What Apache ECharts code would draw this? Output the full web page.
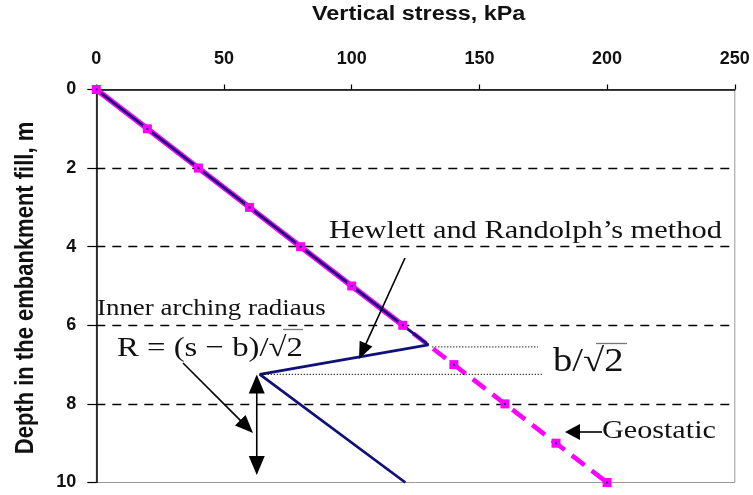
<!DOCTYPE html>
<html><head><meta charset="utf-8">
<script src="https://cdn.jsdelivr.net/npm/echarts@6/dist/echarts.min.js"></script>
<style>html,body{margin:0;padding:0;background:#fff}#c{width:753px;height:495px}</style>
</head><body><div id="c"></div>
<script>
// ---- data ----
const geoStress = [0, 20, 40, 60, 80, 100, 120, 140, 160, 180, 200];
const geoDepth  = [0, 1, 2, 3, 4, 5, 6, 7, 8, 9, 10];
const hrStress  = [0, 130, 64, 121];
const hrDepth   = [0, 6.5, 7.25, 10];
const xTickLabels = [0, 50, 100, 150, 200, 250];
const yTickLabels = [0, 2, 4, 6, 8, 10];
const gridDepths = [2, 4, 6, 8];
const xTitle = 'Vertical stress, kPa';
const yTitle = 'Depth in the embankment fill, m';
const noteMethod = 'Hewlett and Randolph\u2019s method';
const noteInner = 'Inner arching radiaus';
const noteR = 'R = (s \u2212 b)/\u221A2';
const noteB = 'b/\u221A2';
const noteGeo = 'Geostatic';

const geoData = geoStress.map((s, i) => [s, geoDepth[i]]);
const hrData = hrStress.map((s, i) => [s, hrDepth[i]]);
const geoUnder = geoData.filter(p => p[1] <= hrDepth[1]);

const MAG = '#FF00FF', NAVY = '#10107A', TXT = '#111';
const chart = echarts.init(document.getElementById('c'));
const labelFont = {fontFamily: '"Liberation Sans", Arial, sans-serif', fontWeight: 'bold', fontSize: 18, color: TXT};

chart.setOption({
  animation: false,
  backgroundColor: '#fff',
  grid: {left: 96.3, right: 18.2, top: 89.5, bottom: 12.5, show: true, borderColor: '#999', borderWidth: 1},
  xAxis: {
    type: 'value', position: 'top', min: xTickLabels[0], max: xTickLabels[xTickLabels.length - 1], interval: 50,
    axisLine: {show: true, onZero: false, lineStyle: {color: '#000', width: 1.5}},
    axisTick: {show: true, inside: false, length: 5, lineStyle: {color: '#000', width: 1.2}},
    axisLabel: Object.assign({margin: 21}, labelFont),
    splitLine: {show: false}
  },
  yAxis: {
    type: 'value', inverse: true, min: yTickLabels[0], max: yTickLabels[yTickLabels.length - 1], interval: 2,
    axisLine: {show: true, onZero: false, lineStyle: {color: '#000', width: 1.5}},
    axisTick: {show: true, inside: false, length: 9, lineStyle: {color: '#000', width: 1.2}},
    axisLabel: Object.assign({margin: 20}, labelFont),
    splitLine: {show: false}
  },
  series: [
    {
      type: 'line', name: 'Geostatic', data: geoData, symbol: 'none', z: 2, clip: false,
      lineStyle: {color: MAG, width: 4.5, type: [16, 9]},
      markLine: {
        silent: true, symbol: 'none', z: 1, label: {show: false},
        lineStyle: {color: '#000', width: 1.4, type: [9, 7]},
        data: gridDepths.map(d => ({yAxis: d}))
      }
    },
    {
      type: 'line', name: 'GeostaticUnder', data: geoUnder, symbol: 'none', z: 2,
      lineStyle: {color: MAG, width: 5.5, type: 'solid'}
    },
    {
      type: 'line', name: 'Hewlett', data: hrData, symbol: 'none', z: 3, clip: false,
      lineStyle: {color: NAVY, width: 2.8}
    },
    {
      type: 'scatter', name: 'GeoMarkers', data: geoData, symbol: 'rect', symbolSize: 9, z: 4, clip: false,
      itemStyle: {color: MAG, opacity: 1}
    },
    {
      type: 'scatter', name: 'GeoDots', data: geoData, symbol: 'rect', symbolSize: 2, z: 5, clip: false,
      itemStyle: {color: NAVY, opacity: 1}
    }
  ]
});

function arrowHead(x2, y2, ux, uy, len, w) {
  const bx = x2 - ux * len, by = y2 - uy * len, px = -uy * w / 2, py = ux * w / 2;
  return {type: 'polygon', z: 20, shape: {points: [[x2, y2], [bx + px, by + py], [bx - px, by - py]]}, style: {fill: '#000'}};
}
function arrow(x1, y1, x2, y2, len, w, both) {
  const dx = x2 - x1, dy = y2 - y1, L = Math.hypot(dx, dy), ux = dx / L, uy = dy / L;
  const out = [{type: 'line', z: 20, shape: {x1: both ? x1 + ux * len * 0.8 : x1, y1: both ? y1 + uy * len * 0.8 : y1, x2: x2 - ux * len * 0.8, y2: y2 - uy * len * 0.8}, style: {stroke: '#000', lineWidth: 1.6}}];
  out.push(arrowHead(x2, y2, ux, uy, len, w));
  if (both) out.push(arrowHead(x1, y1, -ux, -uy, len, w));
  return out;
}
function txt(t, x, baseline, size, opts) {
  opts = opts || {};
  const fam = opts.family || '"Liberation Serif", "Times New Roman", serif';
  const weight = opts.bold ? 'bold ' : '';
  const fac = opts.bold ? 0.3465 : 0.3375;
  return {type: 'text', z: 30, x: x, y: baseline - fac * size, scaleX: opts.sx || 1.17,
    style: {text: t, font: weight + size + 'px ' + fam, fill: TXT, align: 'left', verticalAlign: 'middle'}};
}

const peak = chart.convertToPixel({seriesIndex: 2}, hrData[1]);
const kink = chart.convertToPixel({seriesIndex: 2}, hrData[2]);
const sans = '"Liberation Sans", Arial, sans-serif';

const g = [];
// axis titles
g.push(txt(xTitle, 312, 21.7, 20, {bold: true, family: sans}));
g.push({type: 'text', z: 30, x: 26, y: 288, rotation: Math.PI / 2, scaleY: 1.17,
  style: {text: yTitle, font: 'bold 22px ' + sans, fill: TXT, align: 'center', verticalAlign: 'middle'}});
// notes
g.push(txt(noteMethod, 329, 240, 26));
g.push(txt(noteInner, 97, 317, 23));
g.push(txt(noteR, 117, 358, 28));
g.push(txt(noteB, 553, 373, 33));
g.push(txt(noteGeo, 602, 440, 26, {sx: 1.16}));
// radical overlines
g.push({type: 'line', z: 30, shape: {x1: 283, y1: 329.5, x2: 303, y2: 329.5}, style: {stroke: '#777', lineWidth: 1.3}});
g.push({type: 'line', z: 30, shape: {x1: 596, y1: 343.5, x2: 627, y2: 343.5}, style: {stroke: '#777', lineWidth: 1.3}});
// dotted guides
g.push({type: 'line', z: 20, shape: {x1: peak[0] + 4, y1: peak[1] + 2, x2: 538, y2: peak[1] + 2}, style: {stroke: '#000', lineWidth: 1.2, lineDash: [1, 2]}});
g.push({type: 'line', z: 20, shape: {x1: kink[0] + 2, y1: kink[1], x2: 542, y2: kink[1]}, style: {stroke: '#000', lineWidth: 1.2, lineDash: [1, 2]}});
// arrows
arrow(405, 258, 359, 359, 17, 14).forEach(e => g.push(e));
arrow(183, 363, 253, 433, 18, 15).forEach(e => g.push(e));
arrow(kink[0] - 3, kink[1], kink[0] - 3, 475, 19, 16, true).forEach(e => g.push(e));
arrow(602, 432, 565, 432, 15, 16).forEach(e => g.push(e));

chart.setOption({graphic: g});
</script>
</body></html>
